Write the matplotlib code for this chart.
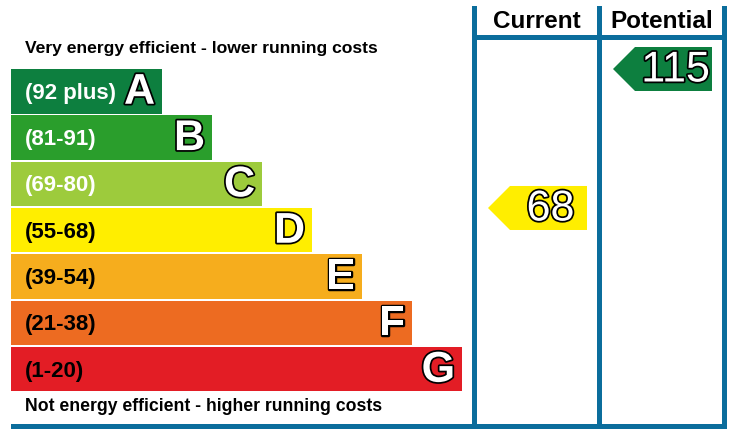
import matplotlib
matplotlib.use("Agg")
import matplotlib.pyplot as plt
import matplotlib.patheffects as pe
from matplotlib.patches import Rectangle, Polygon

# EPC 能效等级数据
bands = ["A", "B", "C", "D", "E", "F", "G"]
ranges = ["(92 plus)", "(81-91)", "(69-80)", "(55-68)", "(39-54)", "(21-38)", "(1-20)"]
lows = [92, 81, 69, 55, 39, 21, 1]
colors = ["#0d7f3f", "#2a9e2c", "#9dcb3c", "#ffee00", "#f6ad1d", "#ed6b21", "#e31d25"]
label_colors = ["white", "white", "white", "black", "black", "black", "black"]
current = 68
potential = 115

blue = "#0b6d9c"
plt.rcParams["font.family"] = ["Liberation Sans", "DejaVu Sans"]


def band_index(value):
    for i, lo in enumerate(lows):
        if value >= lo:
            return i
    return len(lows) - 1


def plot_epc():
    fig = plt.figure(figsize=(7.44, 4.39), dpi=100)
    ax = fig.add_axes([0, 0, 1, 1])
    ax.set_xlim(0, 744)
    ax.set_ylim(439, 0)
    ax.axis("off")

    x0 = 11
    top0 = 70
    pitch = 46.33
    h = 44.5
    widths = [151 + 50 * i for i in range(len(bands))]
    tops = [top0 + pitch * i for i in range(len(bands))]
    centers = [t + h / 2 for t in tops]

    ax.barh(centers, widths, left=x0, height=h, color=colors, linewidth=0)

    outline = [pe.withStroke(linewidth=2.5, foreground="black")]
    for i in range(len(bands)):
        ax.text(x0 + 14, centers[i] + 1, ranges[i], fontsize=16, fontweight="bold",
                color=label_colors[i], ha="left", va="center")
        ax.text(x0 + widths[i] - 7, centers[i] + 1.5, bands[i], fontsize=31, fontweight="bold",
                color="white", ha="right", va="center", path_effects=outline)

    ax.text(25, 48, "Very energy efficient - lower running costs", fontsize=12.6,
            fontweight="bold", ha="left", va="center")
    ax.text(25, 407, "Not energy efficient - higher running costs", fontsize=12.7,
            fontweight="bold", ha="left", va="center")

    # 表格框线
    cols = [472, 597, 722]
    lw = 5
    for cx in cols:
        ax.add_patch(Rectangle((cx, 7), lw, 423, color=blue, linewidth=0))
    ax.add_patch(Rectangle((x0, 425), cols[-1] + lw - x0, lw, color=blue, linewidth=0))
    ax.add_patch(Rectangle((cols[0], 36), cols[-1] + lw - cols[0], lw, color=blue, linewidth=0))

    ax.text((cols[0] + lw + cols[1]) / 2, 21, "Current", fontsize=17.5, fontweight="bold",
            ha="center", va="center")
    ax.text((cols[1] + lw + cols[2]) / 2, 21, "Potential", fontsize=17.5, fontweight="bold",
            ha="center", va="center")

    # 箭头
    for k, value in enumerate([current, potential]):
        i = band_index(value)
        left = cols[k] + lw + 11
        right = cols[k + 1] - 10
        top = tops[i] - 22
        bot = top + 44
        mid = (top + bot) / 2
        pts = [(left, mid), (left + 22, top), (right, top), (right, bot), (left + 22, bot)]
        ax.add_patch(Polygon(pts, closed=True, color=colors[i], linewidth=0))
        ax.text((left + 22 + right) / 2 + 2, mid + 1.5, str(value), fontsize=31,
                color="white", ha="center", va="center", path_effects=outline)

    fig.savefig("out.png", dpi=100)


if __name__ == "__main__":
    plot_epc()
